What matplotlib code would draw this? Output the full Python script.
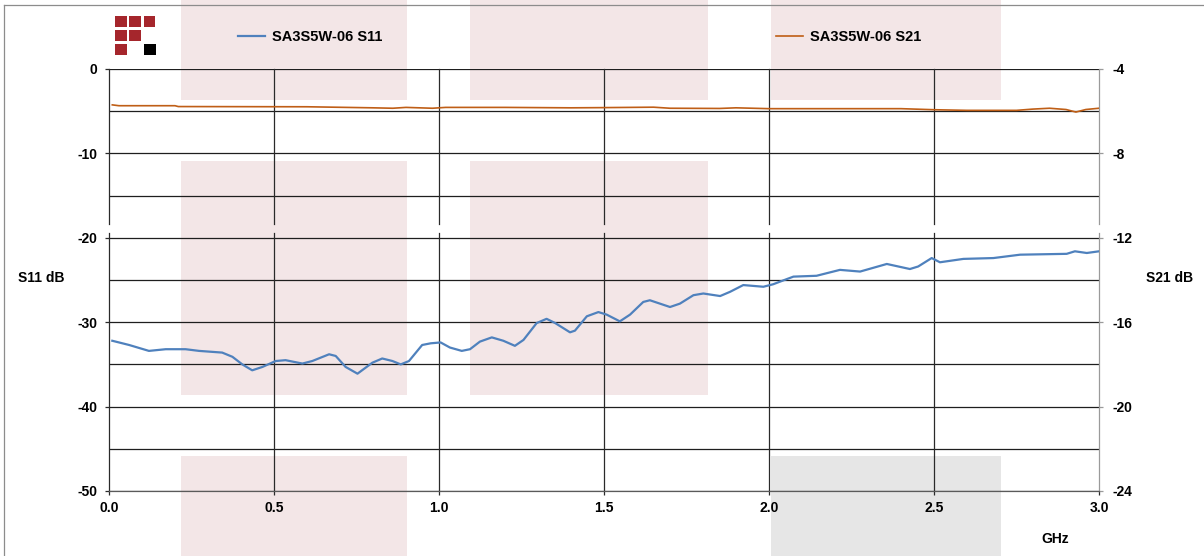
import matplotlib.pyplot as plt
from matplotlib.patches import Rectangle
import numpy as np

plt.rcParams['font.family'] = ['Liberation Sans', 'DejaVu Sans']
plt.rcParams['font.weight'] = 'bold'
plt.rcParams['axes.unicode_minus'] = False

# S11 trace (GHz, dB)
freq_s11 = [0.010, 0.061, 0.121, 0.172, 0.232, 0.273, 0.343, 0.374, 0.404, 0.434,
            0.465, 0.505, 0.535, 0.586, 0.616, 0.667, 0.687, 0.717, 0.753, 0.798,
            0.828, 0.859, 0.884, 0.909, 0.949, 0.975, 1.005, 1.033, 1.069, 1.094,
            1.124, 1.160, 1.195, 1.230, 1.256, 1.296, 1.326, 1.352, 1.397, 1.412,
            1.448, 1.483, 1.508, 1.548, 1.579, 1.619, 1.639, 1.70, 1.730, 1.771,
            1.801, 1.852, 1.882, 1.922, 1.983, 2.013, 2.033, 2.074, 2.144, 2.215,
            2.276, 2.357, 2.427, 2.452, 2.493, 2.518, 2.589, 2.68, 2.761, 2.902,
            2.927, 2.963, 3.0]
s11_db = [-32.2, -32.7, -33.4, -33.2, -33.2, -33.4, -33.6, -34.1, -35.0, -35.7,
          -35.3, -34.6, -34.5, -34.9, -34.6, -33.8, -34.0, -35.3, -36.1, -34.8,
          -34.3, -34.6, -35.0, -34.6, -32.7, -32.5, -32.4, -33.0, -33.4, -33.2,
          -32.3, -31.8, -32.2, -32.8, -32.1, -30.1, -29.6, -30.1, -31.2, -31.0,
          -29.3, -28.8, -29.1, -29.9, -29.1, -27.6, -27.4, -28.2, -27.8, -26.8,
          -26.6, -26.9, -26.4, -25.6, -25.8, -25.5, -25.2, -24.6, -24.5, -23.8,
          -24.0, -23.1, -23.7, -23.4, -22.4, -22.9, -22.5, -22.4, -22.0, -21.9,
          -21.6, -21.8, -21.6]

# S21 trace (GHz, dB)
freq_s21 = [0.01, 0.03, 0.2, 0.21, 0.6, 0.8, 0.86, 0.9, 0.98, 1.02, 1.2, 1.4,
            1.5, 1.65, 1.7, 1.85, 1.9, 2.0, 2.2, 2.4, 2.5, 2.6, 2.75, 2.8, 2.85,
            2.9, 2.93, 2.96, 3.0]
s21_db = [-5.70, -5.74, -5.74, -5.78, -5.79, -5.84, -5.86, -5.82, -5.86, -5.82,
          -5.82, -5.84, -5.83, -5.81, -5.86, -5.87, -5.84, -5.88, -5.88, -5.88,
          -5.93, -5.96, -5.96, -5.90, -5.86, -5.92, -6.04, -5.92, -5.86]

label_s11 = 'SA3S5W-06 S11'
label_s21 = 'SA3S5W-06 S21'

x_ticks = [0.0, 0.5, 1.0, 1.5, 2.0, 2.5, 3.0]
s11_ticks = [-50, -40, -30, -20, -10, 0]
s21_ticks = [-24, -20, -16, -12, -8, -4]

W, H = 1204, 556
fig = plt.figure(figsize=(W / 100, H / 100), dpi=100)


def px_rect(x0, y0, x1, y1, color, z):
    # rectangle given in pixel coords (origin top-left)
    return Rectangle((x0 / W, 1 - y1 / H), (x1 - x0) / W, (y1 - y0) / H,
                     transform=fig.transFigure, facecolor=color,
                     edgecolor='none', zorder=z)


# big background pattern
pink = '#F3E6E7'
for (x0, x1) in [(181, 407), (470, 708), (771, 1001)]:
    fig.patches.append(px_rect(x0, 0, x1, 100, pink, -2))
for (x0, x1) in [(181, 407), (470, 708)]:
    fig.patches.append(px_rect(x0, 161, x1, 395, pink, -2))
fig.patches.append(px_rect(181, 456, 407, 556, pink, -2))
fig.patches.append(px_rect(771, 456, 1001, 556, '#E6E6E6', -2))

# small logo
red = '#A5262C'
cells = [(0, 0), (1, 0), (2, 0), (0, 1), (1, 1), (0, 2)]
for cx, cy in cells:
    x0 = 115 + cx * 14.4
    y0 = 15.5 + cy * 14.1
    fig.patches.append(px_rect(x0, y0, x0 + 11.5, y0 + 11.3, red, 3))
fig.patches.append(px_rect(144, 43.7, 155.5, 55, 'black', 3))

# frame lines
fig.add_artist(plt.Line2D([4 / W, 4 / W], [0, 1 - 5 / H], color='#8c8c8c', lw=0.9))
fig.add_artist(plt.Line2D([4 / W, 1], [1 - 5 / H, 1 - 5 / H], color='#8c8c8c', lw=0.9))

ax = fig.add_axes([109 / W, 1 - 491 / H, 990 / W, 422 / H])
ax.patch.set_visible(False)
ax2 = ax.twinx()

l1, = ax.plot(freq_s11, s11_db, color='#4F81BD', lw=1.6, label=label_s11,
              zorder=5, solid_joinstyle='round')
l2, = ax2.plot(freq_s21, s21_db, color='#BF5E16', lw=1.2, label=label_s21, zorder=5)

ax.set_xlim(0, 3)
ax.set_ylim(-50, 0)
ax2.set_ylim(-24, -4)

ax.set_xticks(x_ticks)
ax.set_xticklabels(['%.1f' % v for v in x_ticks])
ax.set_yticks(s11_ticks)
ax.set_yticks(np.arange(-45, 0, 10), minor=True)
ax2.set_yticks(s21_ticks)

ax.grid(axis='y', which='both', color='#1e1e1e', lw=0.9)
ax.set_axisbelow(True)

# vertical grid with a small gap
gap_lo, gap_hi = 0.611, 0.632
for x in x_ticks:
    c = '#2a2a2a' if x < 3 else '#9a9a9a'
    for (a, b) in [(0, gap_lo), (gap_hi, 1)]:
        ax.axvline(x, ymin=a, ymax=b, color=c, lw=0.9, clip_on=False, zorder=1)

for a in (ax, ax2):
    for s in ('left', 'right', 'top'):
        a.spines[s].set_visible(False)
    a.spines['bottom'].set_color('#5a5a5a')

fs = 10
ax.tick_params(axis='x', direction='out', length=3, width=0.9, color='#2a2a2a',
               pad=4, labelsize=fs)
ax.tick_params(axis='y', which='major', direction='out', length=3, width=0.9,
               color='#2a2a2a', pad=5.5, labelsize=fs)
ax.tick_params(axis='y', which='minor', length=0)
ax2.tick_params(axis='y', direction='out', length=3, width=0.9, color='#9a9a9a',
                pad=6.5, labelsize=fs)

ax.set_ylabel('S11 dB', rotation=0, fontsize=fs, fontweight='bold',
              ha='center', va='center')
ax.yaxis.set_label_coords(-0.0687, 0.505)
ax2.set_ylabel('S21 dB', rotation=0, fontsize=fs, fontweight='bold',
               ha='center', va='center')
ax2.yaxis.set_label_coords(1.0712, 0.505)
ax.set_xlabel('GHz', fontsize=fs, fontweight='bold', va='center')
ax.xaxis.set_label_coords(0.9556, -0.1137)

for handle, xpos in [(l1, 238), (l2, 776)]:
    fig.legend(handles=[handle], loc='center left',
               bbox_to_anchor=(xpos / W, 1 - 37 / H), frameon=False,
               borderpad=0, borderaxespad=0, handlelength=1.85,
               handletextpad=0.5, prop={'size': 10.5, 'weight': 'bold'})

plt.savefig('out.png', dpi=100)
